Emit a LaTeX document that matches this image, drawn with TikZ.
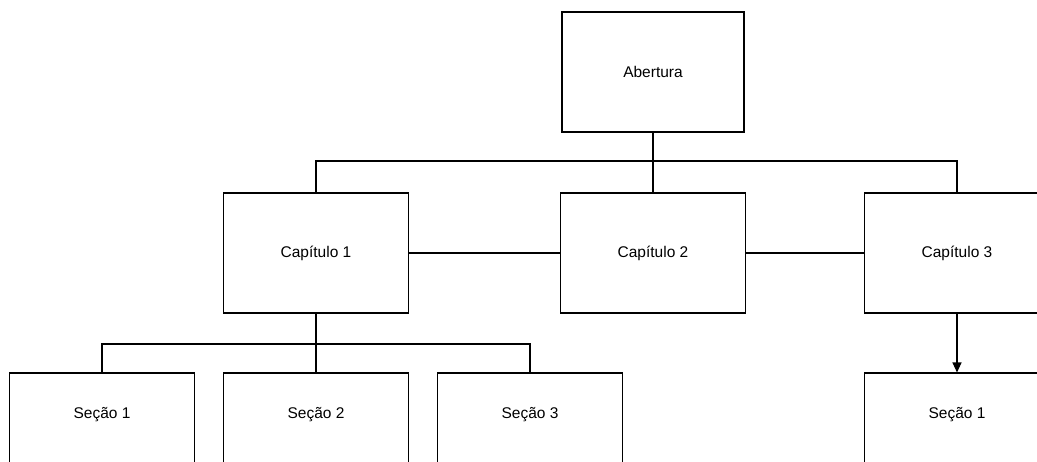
\documentclass[tikz,border=0pt]{standalone}
\usepackage{fontspec}
\setmainfont{Liberation Sans}
\usetikzlibrary{arrows.meta}
\begin{document}
\begin{tikzpicture}[x=1pt,y=-1pt,
  lbl/.style={font=\fontsize{15.5}{18}\selectfont},
  box/.style={draw=black,line width=1.1pt,rectangle,minimum width=185pt,minimum height=120pt,inner sep=0pt,lbl},
  secbox/.style={box,minimum height=130pt},
  link/.style={draw=black,line width=1.1pt}]
  \useasboundingbox (0,0) rectangle (1037,461);
  \clip (0,0) rectangle (1037,461);
  \fill[white] (0,0) rectangle (1037,461);

  % top level
  \node[box,minimum width=182pt] (ab) at (653,72) {Abertura};

  % chapters
  \node[box] (c1) at (316,253) {Capítulo 1};
  \node[box] (c2) at (653,253) {Capítulo 2};
  \node[box] (c3) at (957,253) {Capítulo 3};

  % sections (text sits in the upper part of each box)
  \node[secbox,label={[anchor=center,yshift=-42pt,lbl]north:Seção 1}] (s1) at (102,438) {};
  \node[secbox,label={[anchor=center,yshift=-42pt,lbl]north:Seção 2}] (s2) at (316,438) {};
  \node[secbox,label={[anchor=center,yshift=-42pt,lbl]north:Seção 3}] (s3) at (530,438) {};
  \node[secbox,label={[anchor=center,yshift=-42pt,lbl]north:Seção 1}] (t1) at (957,438) {};

  % bus coordinates
  \coordinate (busA) at (653,161);
  \coordinate (busB) at (316,344);

  % Abertura to chapters
  \draw[link] (ab.south) -- (c2.north);
  \draw[link] (c1.north) |- (busA) -| (c3.north);

  % chapter sequence
  \draw[link] (c1.east) -- (c2.west);
  \draw[link] (c2.east) -- (c3.west);

  % chapter 1 sections
  \draw[link] (c1.south) -- (s2.north);
  \draw[link] (s1.north) |- (busB) -| (s3.north);

  % chapter 3 section
  \draw[link,-{Triangle[length=10pt,width=9pt]}] (c3.south) -- (t1.north);
\end{tikzpicture}
\end{document}
